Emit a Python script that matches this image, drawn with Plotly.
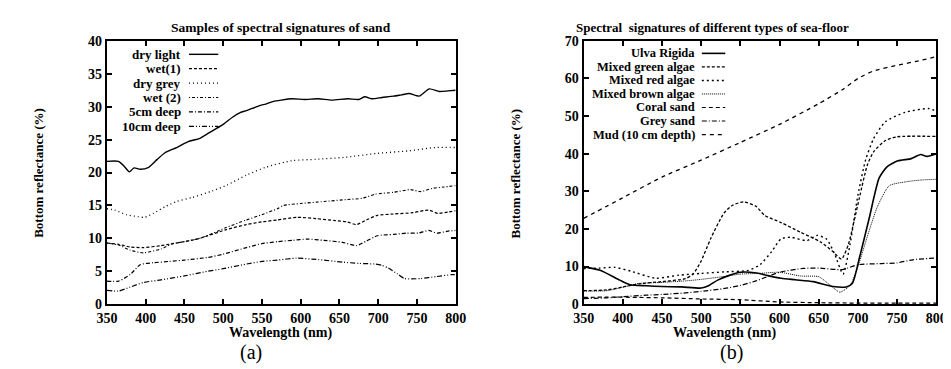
import plotly.graph_objects as go

# ---------------- data: panel (a) sand ----------------
dry_light_wl = [350,365,372,379,385,393,404,415,425,440,455,470,480,490,501,512,522,530,539,548,
                555,565,575,589,605,623,640,661,675,683,692,705,720,730,740,753,766,779,790,800]
dry_light = [21.7,21.7,21.0,20.1,20.7,20.5,20.8,22.0,23.0,23.8,24.7,25.2,25.9,26.6,27.4,28.4,29.1,29.4,29.8,30.2,
             30.4,30.8,31.0,31.2,31.1,31.2,31.0,31.2,31.1,31.5,31.2,31.4,31.6,31.8,32.0,31.6,32.7,32.3,32.4,32.5]

wet1_wl = [350,365,380,397,420,435,450,470,503,530,550,570,595,620,645,660,672,685,699,720,745,765,777,790,800]
wet1 = [9.3,9.1,8.7,8.6,8.9,9.2,9.5,10.0,11.3,12.1,12.5,12.8,13.2,13.0,12.7,12.5,12.1,12.8,13.5,13.7,13.9,14.3,13.8,14.0,14.2]

dry_grey_wl = [350,360,375,390,399,410,425,440,460,486,505,530,555,589,620,656,698,740,774,800]
dry_grey = [14.5,14.3,13.6,13.3,13.2,13.8,14.8,15.6,16.2,17.2,18.1,19.6,20.8,21.8,22.0,22.3,22.9,23.3,23.8,23.8]

wet2_wl = [350,365,380,397,420,435,450,470,503,530,550,570,578,600,630,660,680,696,720,742,755,770,785,800]
wet2 = [9.3,9.0,8.2,7.8,8.4,9.2,9.5,10.0,11.6,12.8,13.6,14.5,15.0,15.3,15.6,15.9,16.1,16.7,17.0,17.4,17.1,17.6,17.8,18.0]

deep5_wl = [350,365,380,393,410,430,450,480,500,530,550,570,590,608,630,654,672,685,699,720,737,752,765,776,790,800]
deep5 = [3.5,3.5,4.5,6.0,6.3,6.5,6.7,7.1,7.6,8.6,9.2,9.5,9.7,9.9,9.7,9.4,8.9,9.6,10.4,10.6,10.8,10.8,11.2,10.8,11.1,11.2]

deep10_wl = [350,365,380,397,420,450,480,500,530,550,570,595,620,654,675,696,705,713,725,734,755,775,795,800]
deep10 = [2.1,2.0,2.6,3.3,3.7,4.3,5.0,5.4,6.1,6.5,6.7,7.0,6.8,6.4,6.2,6.1,5.9,5.5,4.6,3.9,3.9,4.2,4.5,4.5]

# ---------------- data: panel (b) sea-floor ----------------
ulva_wl = [350,371,396,409,430,450,475,500,510,521,535,550,571,585,602,620,643,668,685,693,
           702,714,727,737,751,768,780,788,800]
ulva = [10.0,9.0,6.4,5.2,4.9,4.7,4.6,4.3,5.0,6.4,7.6,8.5,8.3,7.6,6.9,6.5,6.0,4.7,4.6,5.6,
        12.4,22.5,33.5,36.5,38.1,38.7,39.8,39.3,40.0]

green_wl = [350,380,400,420,450,480,490,500,512,529,540,554,570,581,602,627,652,668,679,688,695,702,712,720,735,750,800]
green = [3.6,3.8,4.6,5.4,6.0,6.8,8.1,11.5,17.4,24.2,26.3,27.2,26.0,23.6,21.7,19.1,16.6,14.0,12.0,16.0,22.0,28.4,37.0,40.5,43.5,44.5,44.6]

red_wl = [350,370,390,410,442,471,500,530,560,575,590,602,614,635,648,660,670,681,690,700,710,720,735,760,790,800]
red = [9.5,9.6,9.8,8.8,6.9,7.7,8.2,8.6,9.0,10.5,14.0,17.4,17.8,16.9,18.3,17.3,13.5,8.0,16.0,29.0,38.5,44.0,48.5,51.0,52.0,51.3]

brown_wl = [350,380,400,420,450,480,500,530,550,575,600,627,650,665,677,690,700,712,725,740,760,780,800]
brown = [3.5,3.6,4.5,5.5,5.8,6.2,6.6,7.4,8.0,8.2,8.5,7.5,7.3,5.0,3.2,5.0,10.0,18.0,26.0,31.5,32.5,33.0,33.2]

coral_wl = [350,380,420,450,500,550,600,650,700,750,800]
coral = [1.8,1.9,1.8,1.7,1.4,1.2,0.6,0.4,0.3,0.3,0.3]

greysand_wl = [350,380,400,430,450,480,500,530,550,570,600,630,650,680,700,730,750,770,800]
greysand = [1.5,1.7,2.0,2.4,2.6,3.0,3.4,4.2,5.0,6.2,8.5,9.5,9.6,9.2,10.5,10.8,11.0,11.8,12.3]

mud_wl = [350,400,450,500,550,600,650,680,700,720,750,780,800]
mud = [22.8,28.3,33.8,38.3,43.0,47.8,53.3,57.0,60.0,62.0,63.5,64.8,65.8]

x_ticks = [350,400,450,500,550,600,650,700,750,800]

SERIF = "Liberation Serif"
W, H = 951, 369
fig = go.Figure()

series_a = [
    (dry_light_wl, dry_light, "dry light", "solid", 1.4),
    (wet1_wl, wet1, "wet(1)", "3px,2px", 1.2),
    (dry_grey_wl, dry_grey, "dry grey", "1px,3px", 1.3),
    (wet2_wl, wet2, "wet (2)", "1px,2px,3px,2px", 1.1),
    (deep5_wl, deep5, "5cm deep", "4px,2px,1px,2px", 1.2),
    (deep10_wl, deep10, "10cm deep", "5px,2px,1px,2px,1px,2px", 1.2),
]
series_b = [
    (ulva_wl, ulva, "Ulva Rigida", "solid", 1.6),
    (green_wl, green, "Mixed green algae", "3px,2px", 1.3),
    (red_wl, red, "Mixed red algae", "2px,3px", 1.4),
    (brown_wl, brown, "Mixed brown algae", "1px,1px", 1.0),
    (coral_wl, coral, "Coral sand", "4px,3px", 1.2),
    (greysand_wl, greysand, "Grey sand", "5px,2px,1px,2px", 1.2),
    (mud_wl, mud, "Mud (10 cm depth)", "4px,4px", 1.3),
]

for x, y, name, dash, w in series_a:
    fig.add_trace(go.Scatter(x=x, y=y, name=name, mode="lines", xaxis="x", yaxis="y",
                             line=dict(color="black", width=w, dash=dash, shape="spline", smoothing=0.6)))
for x, y, name, dash, w in series_b:
    fig.add_trace(go.Scatter(x=x, y=y, name=name, mode="lines", xaxis="x2", yaxis="y2",
                             line=dict(color="black", width=w, dash=dash, shape="spline", smoothing=0.6)))

tickfont = dict(family=SERIF, size=14, color="black", weight="bold")
ax_common = dict(showline=True, linecolor="black", linewidth=2, mirror="allticks",
                 ticks="inside", ticklen=5, tickwidth=1.5, tickcolor="black",
                 showgrid=False, zeroline=False, tickfont=tickfont)

ydom = [0.183, 0.927]
fig.update_layout(
    width=W, height=H,
    margin=dict(l=0, r=0, t=0, b=0),
    paper_bgcolor="white", plot_bgcolor="white",
    showlegend=False,
    xaxis=dict(domain=[0.0946, 0.470], range=[350, 800], tickvals=x_ticks, anchor="y", **ax_common),
    yaxis=dict(domain=ydom, range=[0, 40], dtick=5, anchor="x", **ax_common),
    xaxis2=dict(domain=[0.6078, 0.9874], range=[350, 800], tickvals=x_ticks, anchor="y2", **ax_common),
    yaxis2=dict(domain=ydom, range=[0, 70], dtick=10, anchor="x2", **ax_common),
)

def ann(text, x, y, size, bold=True, angle=0, xanchor="center"):
    fig.add_annotation(text=text, x=x / W, y=1 - y / H, xref="paper", yref="paper", showarrow=False,
                       textangle=angle, xanchor=xanchor, yanchor="middle",
                       font=dict(family=SERIF, size=size, color="black", weight="bold" if bold else "normal"))

# in-plot legends: label right-aligned, line sample on the right (as in the original)
def legend(series, text_right, sample_x0, sample_x1, y0, step, size):
    for i, (_, _, name, dash, w) in enumerate(series):
        yy = y0 + step * i
        ann(name, text_right, yy, size, xanchor="right")
        fig.add_shape(type="line", xref="paper", yref="paper",
                      x0=sample_x0 / W, x1=sample_x1 / W, y0=1 - yy / H, y1=1 - yy / H,
                      line=dict(color="black", width=w, dash=dash))

legend(series_a, 168, 174, 204, 41, 15, 13)
legend(series_b, 694, 699, 723, 40, 14.1, 12.5)

ann("Samples of spectral signatures of sand", 268, 13, 13.5)
ann("Spectral  signatures of different types of sea-floor", 710, 13, 13)
ann("Bottom reflectance (%)", 20, 165, 13, angle=-90)
ann("Bottom reflectance (%)", 508, 165, 13, angle=-90)
ann("Wavelength (nm)", 268, 331, 14)
ann("Wavelength (nm)", 722, 331, 14)
ann("(a)", 237, 352, 20, bold=False)
ann("(b)", 729, 352, 20, bold=False)

fig.write_html("out.html")
